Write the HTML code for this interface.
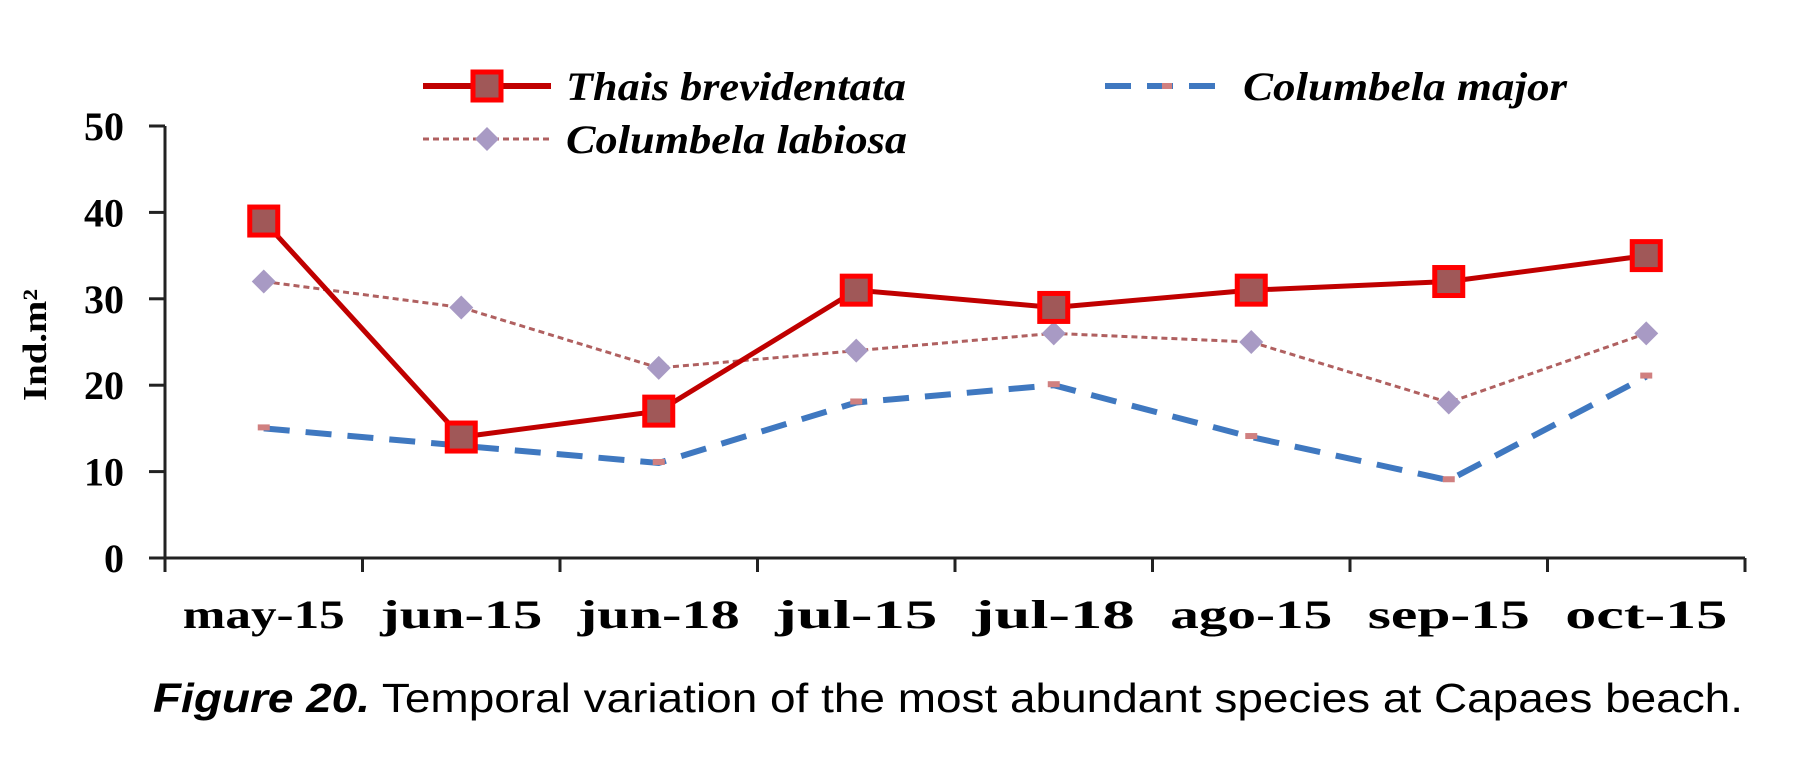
<!DOCTYPE html>
<html><head><meta charset="utf-8"><style>html,body{margin:0;padding:0;background:#fff;}svg{display:block}</style></head>
<body>
<svg id="chart" width="1804" height="773" viewBox="0 0 1804 773" xmlns="http://www.w3.org/2000/svg">
<g id="axes"></g>
<g id="series"></g>
<g id="legend">
  <line x1="423" y1="86" x2="551" y2="86" stroke="#c00000" stroke-width="6"/>
  <rect x="473" y="72" width="28" height="28" fill="#a05858" stroke="#ff0000" stroke-width="5"/>
  <text x="566" y="100" font-family="Liberation Serif, serif" font-weight="bold" font-style="italic" font-size="40" textLength="340" lengthAdjust="spacingAndGlyphs">Thais brevidentata</text>
  <line x1="423" y1="139" x2="551" y2="139" stroke="#b06060" stroke-width="3" stroke-dasharray="6,4"/>
  <polygon points="487,127 499,139 487,151 475,139" fill="#a89ac4"/>
  <text x="566" y="153" font-family="Liberation Serif, serif" font-weight="bold" font-style="italic" font-size="40" textLength="341" lengthAdjust="spacingAndGlyphs">Columbela labiosa</text>
  <line x1="1105" y1="86" x2="1231" y2="86" stroke="#3f78c0" stroke-width="6" stroke-dasharray="26,16"/>
  <rect x="1162" y="83" width="10" height="6" fill="#d08080"/>
  <text x="1243" y="100" font-family="Liberation Serif, serif" font-weight="bold" font-style="italic" font-size="40" textLength="324" lengthAdjust="spacingAndGlyphs">Columbela major</text>
</g>
<text transform="translate(46,345) rotate(-90)" text-anchor="middle" font-family="Liberation Serif, serif" font-weight="bold" font-size="34" textLength="112" lengthAdjust="spacingAndGlyphs">Ind.m²</text>
<text x="153" y="712" font-family="Liberation Sans, sans-serif" font-size="41" textLength="1590" lengthAdjust="spacingAndGlyphs"><tspan font-weight="bold" font-style="italic">Figure 20.</tspan> Temporal variation of the most abundant species at Capaes beach.</text>
</svg>
<script>
const categories = ["may-15","jun-15","jun-18","jul-15","jul-18","ago-15","sep-15","oct-15"];
const thais = [39,14,17,31,29,31,32,35];
const labiosa = [32,29,22,24,26,25,18,26];
const major = [15,13,11,18,20,14,9,21];
const yTicks = [0,10,20,30,40,50];

const NS = "http://www.w3.org/2000/svg";
const X0 = 165, STEP = 197.5, Y0 = 558, YTOP = 126;
function xPos(i){ return X0 + STEP*(i+0.5); }
function yPos(v){ return Y0 - (v/50)*(Y0-YTOP); }
function mk(tag, attrs, parent){ const e=document.createElementNS(NS,tag); for(const k in attrs) e.setAttribute(k,attrs[k]); parent.appendChild(e); return e; }
const axes=document.getElementById('axes'), ser=document.getElementById('series');

let ax=mk('line',{x1:X0,y1:YTOP,x2:X0,y2:Y0,stroke:'#222','stroke-width':3},axes);


let bx=mk('line',{x1:X0-16,y1:Y0,x2:X0+STEP*categories.length,y2:Y0,stroke:'#222','stroke-width':3},axes);


yTicks.forEach(t=>{
  const y=yPos(t);
  mk('line',{x1:X0-16,y1:y,x2:X0,y2:y,stroke:'#222','stroke-width':3},axes);
  const tx=mk('text',{x:124,y:y+14,'text-anchor':'end','font-family':'Liberation Serif, serif','font-weight':'bold','font-size':40},axes);
  tx.textContent=t;
  
  
});
for(let i=0;i<=categories.length;i++){
  mk('line',{x1:X0+STEP*i,y1:Y0,x2:X0+STEP*i,y2:Y0+14,stroke:'#222','stroke-width':3},axes);
}
categories.forEach((c,i)=>{
  const tx=mk('text',{x:xPos(i),y:628,'text-anchor':'middle','font-family':'Liberation Serif, serif','font-weight':'bold','font-size':40,textLength:c.length*27,lengthAdjust:'spacingAndGlyphs'},axes);
  tx.textContent=c;
  
  
});
function pts(arr){ return arr.map((v,i)=>xPos(i)+','+yPos(v)).join(' '); }

let lm=mk('polyline',{points:pts(major),fill:'none',stroke:'#3f78c0','stroke-width':6,'stroke-dasharray':'26,16'},ser);


major.forEach((v,i)=>{ const r=mk('rect',{x:xPos(i)-6,y:yPos(v)-4,width:12,height:6,fill:'#d08080'},ser);
  
   });

let ll=mk('polyline',{points:pts(labiosa),fill:'none',stroke:'#b06060','stroke-width':3,'stroke-dasharray':'6,4'},ser);


labiosa.forEach((v,i)=>{ const x=xPos(i),y=yPos(v);
  const p=mk('polygon',{points:`${x},${y-12} ${x+12},${y} ${x},${y+12} ${x-12},${y}`,fill:'#a89ac4'},ser);
  
   });

let lt=mk('polyline',{points:pts(thais),fill:'none',stroke:'#c00000','stroke-width':5},ser);


thais.forEach((v,i)=>{ const r=mk('rect',{x:xPos(i)-14,y:yPos(v)-14,width:28,height:28,fill:'#a05858',stroke:'#ff0000','stroke-width':5},ser);
  
   });
</script>
</body></html>
